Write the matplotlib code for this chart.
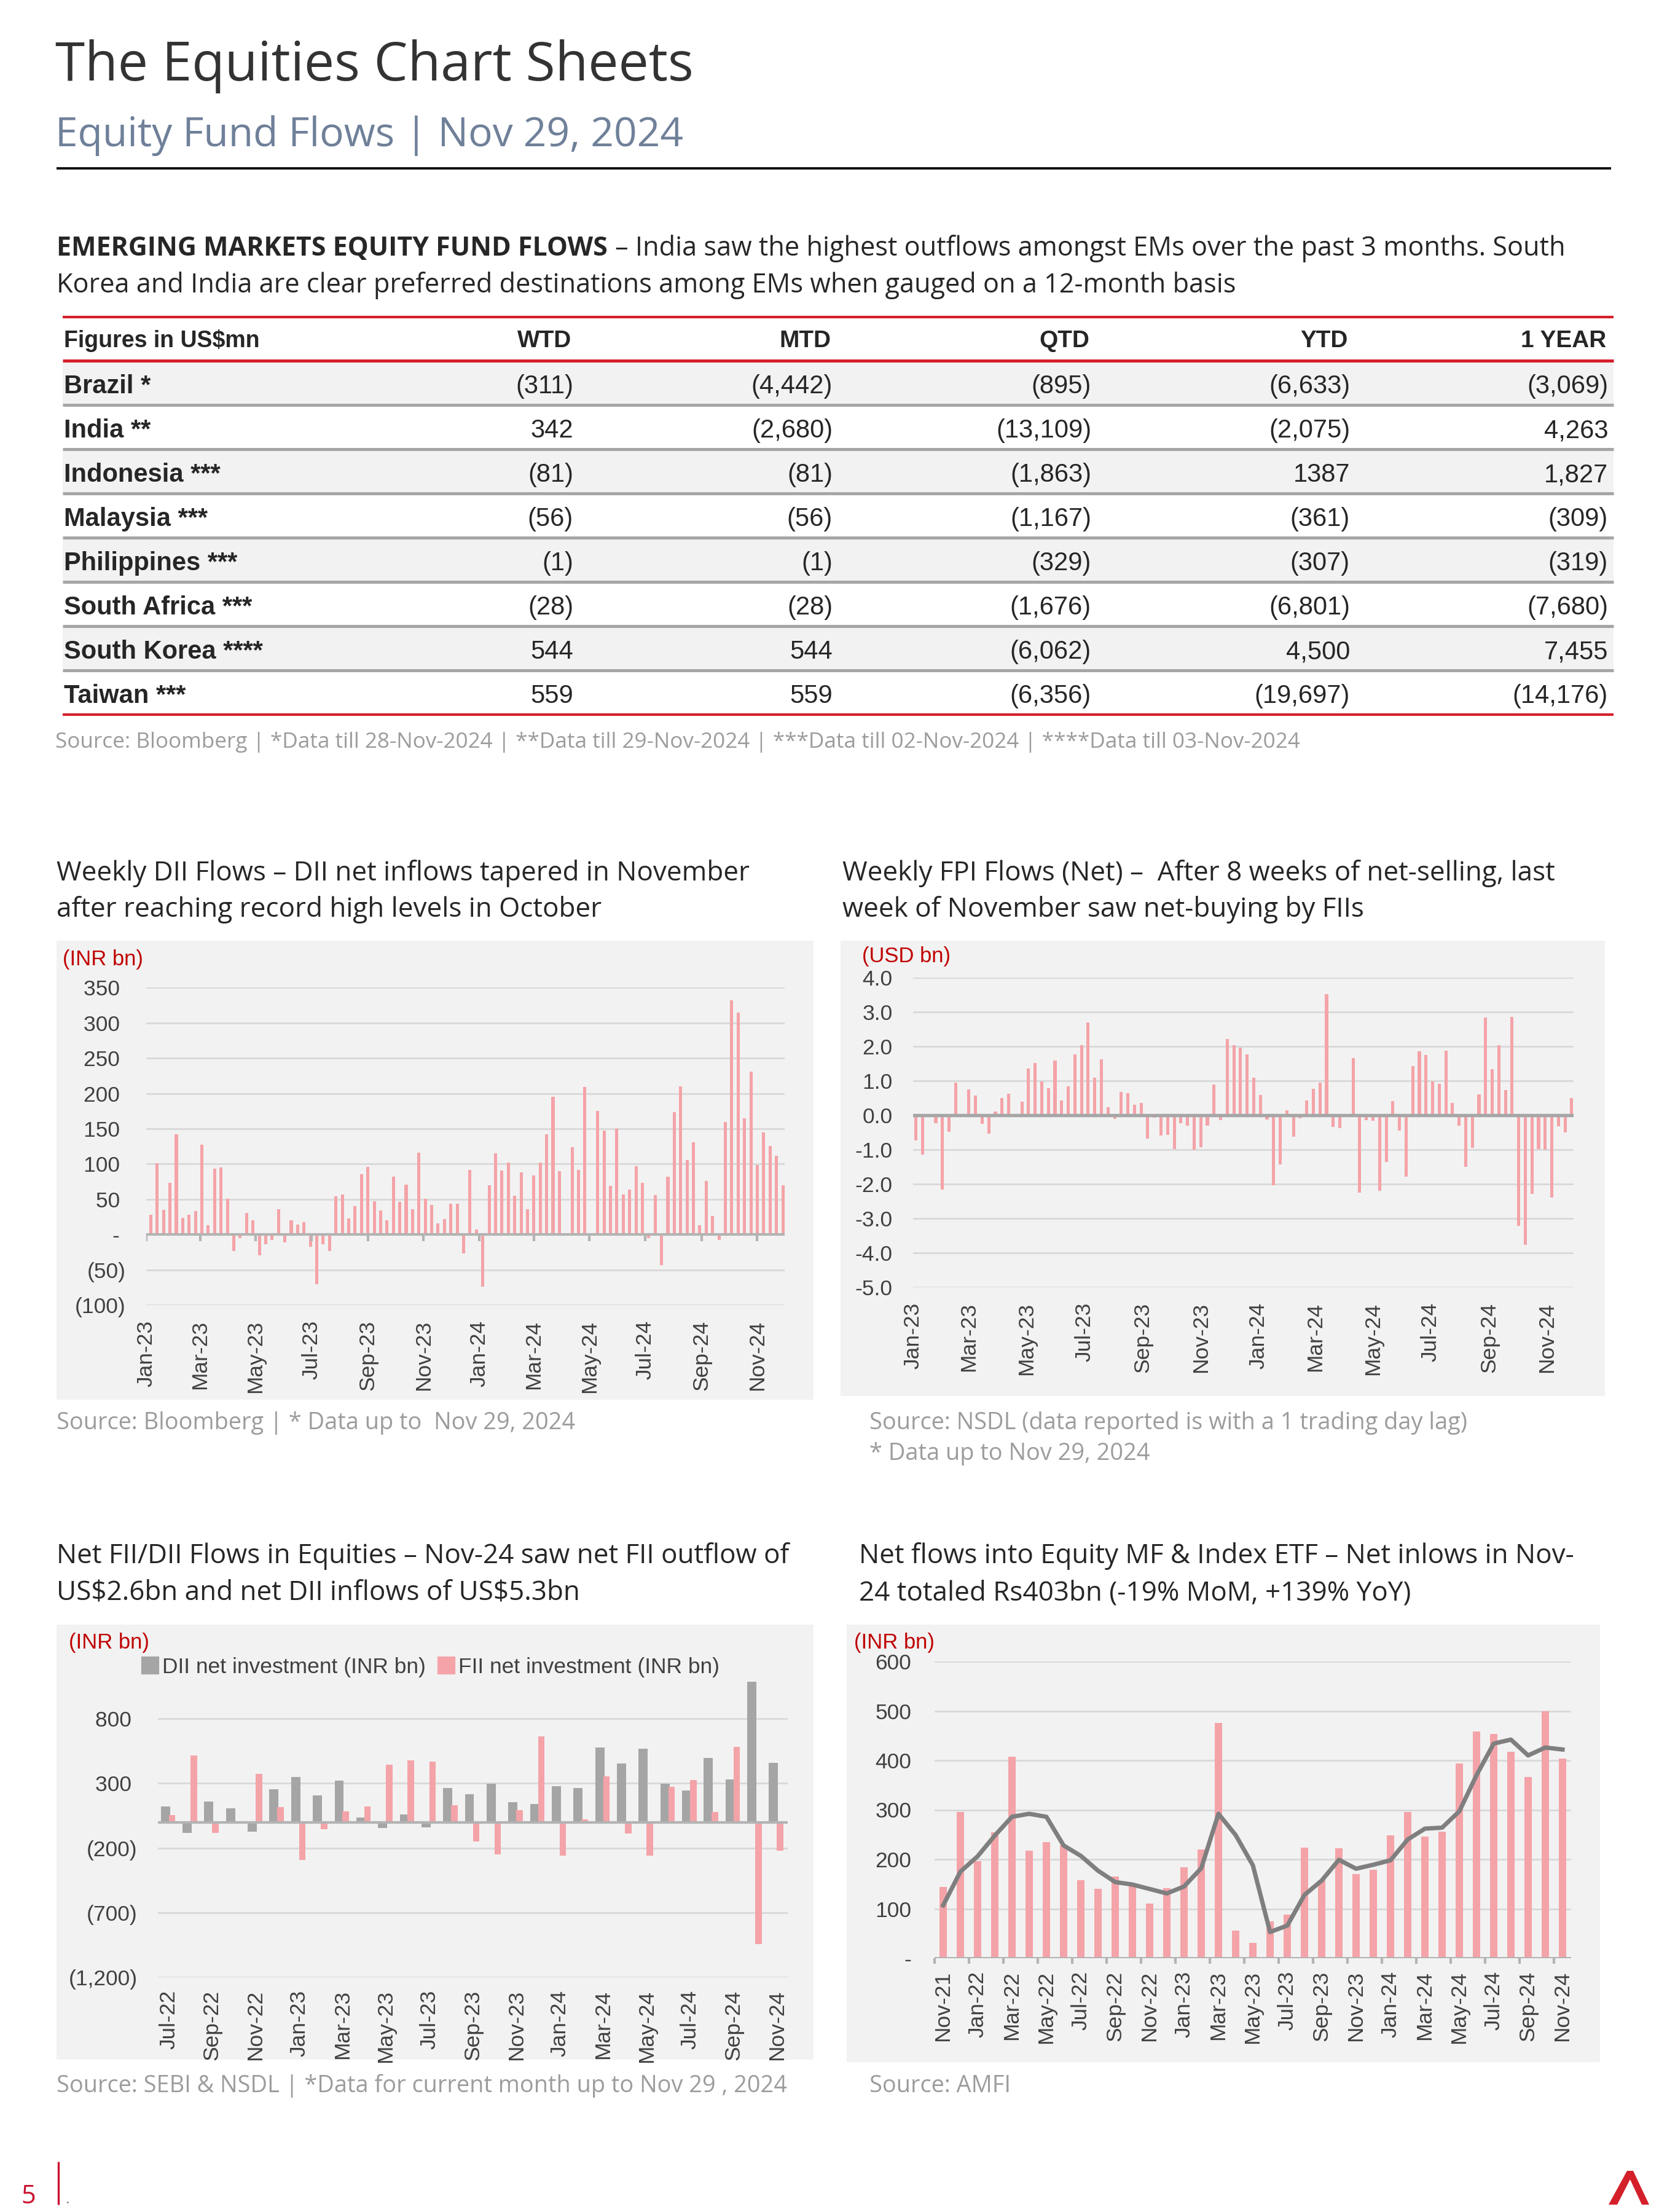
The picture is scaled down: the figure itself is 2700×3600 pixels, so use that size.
import numpy as np
import pandas as pd
import matplotlib
matplotlib.use("Agg")
import matplotlib.pyplot as plt
from matplotlib.patches import Rectangle, Polygon, Patch

W, H = 2700, 3600

# ---------------- data ----------------
countries = ["Brazil *", "India **", "Indonesia ***", "Malaysia ***", "Philippines ***",
             "South Africa ***", "South Korea ****", "Taiwan ***"]
table_cols = ["WTD", "MTD", "QTD", "YTD", "1 YEAR"]
wtd = ["(311)", "342", "(81)", "(56)", "(1)", "(28)", "544", "559"]
mtd = ["(4,442)", "(2,680)", "(81)", "(56)", "(1)", "(28)", "544", "559"]
qtd = ["(895)", "(13,109)", "(1,863)", "(1,167)", "(329)", "(1,676)", "(6,062)", "(6,356)"]
ytd = ["(6,633)", "(2,075)", "1387", "(361)", "(307)", "(6,801)", "4,500", "(19,697)"]
one_year = ["(3,069)", "4,263", "1,827", "(309)", "(319)", "(7,680)", "7,455", "(14,176)"]

# weekly DII flows, INR bn (weeks ending Fridays from 6-Jan-2023)
dii_weekly = [28, 101, 35, 73, 142, 24, 28, 33, 127, 13, 93, 95, 51, -23, -5, 31, 20, -29, -14, -8,
              36, -11, 20, 14, 18, -17, -70, -14, -23, 54, 57, 23, 40, 86, 96, 47, 34, 20, 82, 46,
              71, 36, 116, 51, 42, 16, 22, 44, 44, -27, 92, 7, -74, 70, 115, 91, 102, 55, 88, 36,
              84, 102, 142, 195, 90, 0, 124, 92, 209, 0, 175, 147, 69, 150, 57, 64, 97, 73, -5, 56,
              -43, 82, 174, 210, 106, 131, 13, 76, 26, -8, 160, 332, 315, 165, 231, 99, 145, 126, 112, 70]
dii_dates = pd.date_range("2023-01-06", periods=len(dii_weekly), freq="7D")

# weekly FPI net flows, USD bn
fpi_weekly = [-0.73, -1.14, 0.0, -0.23, -2.17, -0.49, 0.95, -0.06, 0.74, 0.57,
              -0.26, -0.54, 0.11, 0.49, 0.63, 0.0, 0.39, 1.35, 1.52, 0.98,
              0.79, 1.59, 0.42, 0.83, 1.76, 2.03, 2.69, 1.09, 1.63, 0.23,
              -0.12, 0.67, 0.64, 0.30, 0.36, -0.68, -0.08, -0.59, -0.58, -0.99,
              -0.23, -0.30, -1.00, -0.93, -0.31, 0.89, -0.15, 2.22, 2.03, 1.97,
              1.77, 1.08, 0.59, -0.13, -2.05, -1.43, 0.14, -0.63, -0.10, 0.42,
              0.76, 0.95, 3.51, -0.34, -0.38, -0.06, 1.66, -2.25, -0.14, -0.17,
              -2.21, -1.36, 0.41, -0.45, -1.79, 1.43, 1.85, 1.75, 0.98, 0.90,
              1.87, 0.36, -0.31, -1.51, -0.95, 0.60, 2.84, 1.33, 2.03, 0.72,
              2.85, -3.22, -3.77, -2.30, -0.99, -1.00, -2.40, -0.32, -0.51, 0.49]
fpi_dates = pd.date_range("2023-01-04", periods=len(fpi_weekly), freq="7D")

# monthly DII / FII net investment, INR bn (Jul-22 .. Nov-24)
flow_months = pd.date_range("2022-07-01", periods=29, freq="MS").strftime("%b-%y")
dii_monthly = [122, -85, 157, 109, -74, 255, 347, 207, 319, 35, -44, 59, -39, 264, 216,
               297, 155, 142, 279, 266, 576, 454, 570, 299, 247, 496, 332, 1087, 459]
fii_monthly = [57, 517, -81, -5, 371, 118, -293, -57, 85, 120, 443, 476, 469, 129, -151,
               -249, 94, 664, -258, 22, 356, -90, -258, 273, 325, 79, 583, -945, -223]

# net flows into equity MF & index ETF, INR bn (Nov-21 .. Nov-24)
mf_months = pd.date_range("2021-11-01", periods=37, freq="MS").strftime("%b-%y")
mf_flows = [144, 296, 196, 255, 407, 218, 235, 228, 158, 140, 165, 147, 110, 141, 184, 220,
            476, 56, 31, 74, 88, 223, 158, 222, 170, 179, 249, 296, 246, 256, 394, 458,
            453, 417, 366, 500, 404]
mf_3m_avg = [107, 175, 206, 248, 286, 292, 286, 228, 207, 177, 154, 149, 140, 131, 145, 182,
             292, 249, 188, 53, 66, 128, 157, 199, 181, 189, 198, 240, 262, 264, 297, 370,
             434, 442, 410, 426, 422]

# ---------------- style ----------------
PINK = "#f4a3a8"
GRAY_BAR = "#a5a5a5"
PANEL = "#f2f2f2"
GRID = "#d9d9d9"
AXIS = "#b3b3b3"
TICK = "#404040"
UNIT_RED = "#c00000"
TABLE_RED = "#d4202a"
SEP = "#a6a6a6"
SOURCE = "#9c9c9c"
LINE = "#7f7f7f"
TEXT_FONT = ["Open Sans", "DejaVu Sans"]
NUM_FONT = ["Liberation Sans", "DejaVu Sans"]

plt.rcParams["font.family"] = NUM_FONT

fig = plt.figure(figsize=(9, 12), dpi=300)
page = fig.add_axes([0, 0, 1, 1])
page.set_xlim(0, W)
page.set_ylim(H, 0)
page.axis("off")


def ptext(x, y, s, **kw):
    kw.setdefault("va", "baseline")
    kw.setdefault("family", TEXT_FONT)
    return page.text(x, y, s, **kw)


def paren(v, pad=""):
    if v == 0:
        return "-" + pad
    if v < 0:
        return "({:,})".format(abs(v))
    return "{:,}".format(v) + pad


def chart_axes(x0, y0, x1, y1):
    ax = fig.add_axes([x0 / W, 1 - y1 / H, (x1 - x0) / W, (y1 - y0) / H])
    ax.set_facecolor("none")
    for s in ax.spines.values():
        s.set_visible(False)
    ax.grid(axis="y", color=GRID, lw=0.7)
    ax.set_axisbelow(True)
    ax.tick_params(axis="both", length=0, labelsize=8.5, labelcolor=TICK)
    return ax


# ---------------- header ----------------
ptext(90, 131, "The Equities Chart Sheets", fontsize=21, color="#333333")
ptext(90, 238, "Equity Fund Flows | Nov 29, 2024", fontsize=15.8, color="#6f8099")
page.hlines(274, 92, 2622, color="black", lw=0.9)

bold_head = ptext(92, 416, "EMERGING MARKETS EQUITY FUND FLOWS", fontsize=10.3, weight="bold",
                  color="#262626")
# put the regular part right after the bold lead-in
fig.canvas.draw()
bb = bold_head.get_window_extent().transformed(page.transData.inverted())
ptext(max(bb.x1, bb.x0) + 12, 416,
      "\u2013 India saw the highest outflows amongst EMs over the past 3 months. South",
      fontsize=10.4, color="#262626")
ptext(92, 476, "Korea and India are clear preferred destinations among EMs when gauged on a 12-month basis",
      fontsize=10.4, color="#262626")

# ---------------- table ----------------
row_top = 589
row_h = 72
for i in range(len(countries)):
    if i % 2 == 0:
        page.add_patch(Rectangle((102, row_top + i * row_h), 2524, row_h - 3, color=PANEL, lw=0))
page.hlines([516, 1163], 102, 2626, color=TABLE_RED, lw=1.0)
page.hlines(587, 102, 2626, color=TABLE_RED, lw=1.2)
page.hlines([row_top + row_h * (i + 1) - 2 for i in range(len(countries) - 1)], 102, 2626,
            color=SEP, lw=1.2)

num_right = [933, 1355, 1776, 2197, 2617]
ptext(104, 565, "Figures in US\\$mn", family=NUM_FONT, fontsize=9, weight="bold", color="#262626")
for xr, col in zip(num_right, table_cols):
    ptext(xr - 3, 565, col, family=NUM_FONT, fontsize=9.3, weight="bold", color="#262626", ha="right")
for i, name in enumerate(countries):
    yb = 640 + i * row_h
    ptext(104, yb, name, family=NUM_FONT, fontsize=10, weight="bold", color="#262626")
    for xr, col in zip(num_right, [wtd, mtd, qtd, ytd, one_year]):
        ptext(xr, yb, col[i], family=NUM_FONT, fontsize=10, color="#262626", ha="right")

ptext(90, 1217, "Source: Bloomberg | *Data till 28-Nov-2024 | **Data till 29-Nov-2024 | "
      "***Data till 02-Nov-2024 | ****Data till 03-Nov-2024", fontsize=8.45, color=SOURCE)

# ---------------- chart titles, panels, sources ----------------
TS = 10.55
ptext(92, 1433, "Weekly DII Flows \u2013 DII net inflows tapered in November", fontsize=TS, color="#262626")
ptext(92, 1492, "after reaching record high levels in October", fontsize=TS, color="#262626")
ptext(1371, 1433, "Weekly FPI Flows (Net) \u2013  After 8 weeks of net-selling, last", fontsize=TS, color="#262626")
ptext(1371, 1492, "week of November saw net-buying by FIIs", fontsize=TS, color="#262626")
ptext(92, 2544, "Net FII/DII Flows in Equities \u2013 Nov-24 saw net FII outflow of", fontsize=TS, color="#262626")
ptext(92, 2604, "US\\$2.6bn and net DII inflows of US\\$5.3bn", fontsize=TS, color="#262626")
ptext(1398, 2544, "Net flows into Equity MF & Index ETF \u2013 Net inlows in Nov-", fontsize=TS, color="#262626")
ptext(1398, 2604, "24 totaled Rs403bn (-19% MoM, +139% YoY)", fontsize=TS, color="#262626")

for (x0, y0, x1, y1) in [(92, 1531, 1324, 2278), (1368, 1531, 2612, 2272),
                         (92, 2644, 1324, 3352), (1378, 2644, 2604, 3356)]:
    page.add_patch(Rectangle((x0, y0), x1 - x0, y1 - y0, color=PANEL, lw=0))

ptext(102, 1571, "(INR bn)", family=NUM_FONT, fontsize=8.3, color=UNIT_RED)
ptext(1403, 1566, "(USD bn)", family=NUM_FONT, fontsize=8.3, color=UNIT_RED)
ptext(112, 2683, "(INR bn)", family=NUM_FONT, fontsize=8.3, color=UNIT_RED)
ptext(1390, 2683, "(INR bn)", family=NUM_FONT, fontsize=8.3, color=UNIT_RED)

SS = 9.1
ptext(92, 2326, "Source: Bloomberg | * Data up to  Nov 29, 2024", fontsize=SS, color=SOURCE)
ptext(1415, 2326, "Source: NSDL (data reported is with a 1 trading day lag)", fontsize=SS, color=SOURCE)
ptext(1415, 2376, "* Data up to Nov 29, 2024", fontsize=SS, color=SOURCE)
ptext(92, 3405, "Source: SEBI & NSDL | *Data for current month up to Nov 29 , 2024", fontsize=SS, color=SOURCE)
ptext(1415, 3405, "Source: AMFI", fontsize=SS, color=SOURCE)

# ---------------- chart 1: weekly DII ----------------
ax1 = chart_axes(238, 1607.5, 1277, 2124)
ax1.bar(dii_dates, dii_weekly, width=3.4, color=PINK, zorder=2)
ax1.set_xlim(pd.Timestamp("2023-01-01"), pd.Timestamp("2024-12-01"))
ax1.set_ylim(-100, 350)
yt = list(range(-100, 351, 50))
ax1.set_yticks(yt)
ax1.set_yticklabels([paren(v, " ") for v in yt])
ticks1 = pd.date_range("2023-01-01", "2024-11-01", freq="2MS")
ax1.set_xticks(ticks1)
ax1.set_xticklabels(ticks1.strftime("%b-%y"), rotation=90)
ax1.tick_params(axis="y", pad=8)
ax1.tick_params(axis="x", pad=6)
ax1.axhline(0, color=AXIS, lw=1.0, zorder=3)
ax1.vlines(ticks1, -9, 0, color=AXIS, lw=1.0, zorder=3)

# ---------------- chart 2: weekly FPI ----------------
ax2 = chart_axes(1486, 1591, 2561, 2094.5)
ax2.bar(fpi_dates, fpi_weekly, width=3.3, color=PINK, zorder=2)
ax2.set_xlim(pd.Timestamp("2023-01-01"), pd.Timestamp("2024-11-29"))
ax2.set_ylim(-5, 4)
yt2 = np.arange(-5, 5)
ax2.set_yticks(yt2)
ax2.set_yticklabels(["{:.1f}".format(v) for v in yt2])
ticks2 = pd.date_range("2023-01-01", "2024-11-01", freq="2MS")
ax2.set_xticks(ticks2)
ax2.set_xticklabels(ticks2.strftime("%b-%y"), rotation=90)
ax2.tick_params(axis="y", pad=8)
ax2.tick_params(axis="x", pad=6)
ax2.axhline(0, color="#a6a6a6", lw=1.3, zorder=3)

# ---------------- chart 3: monthly FII / DII ----------------
ax3 = chart_axes(257, 2713, 1282, 3218)
x3 = np.arange(len(flow_months))
ax3.bar(x3 - 0.155, dii_monthly, width=0.42, color=GRAY_BAR, zorder=2)
ax3.bar(x3 + 0.15, fii_monthly, width=0.30, color=PINK, zorder=3)
ax3.set_xlim(-0.5, len(flow_months) - 0.5)
ax3.set_ylim(-1200, 1200)
yt3 = [-1200, -700, -200, 300, 800]
ax3.set_yticks(yt3)
ax3.set_yticklabels([paren(v, " ") for v in yt3])
ax3.set_xticks(x3[::2])
ax3.set_xticklabels(flow_months[::2], rotation=90)
ax3.tick_params(axis="y", pad=8)
ax3.tick_params(axis="x", pad=5)
ax3.axhline(0, color=AXIS, lw=1.0, zorder=4)
ax3.legend([Patch(color=GRAY_BAR), Patch(color=PINK)],
           ["DII net investment (INR bn)", "FII net investment (INR bn)"],
           loc="center left", bbox_to_anchor=(232 / W, 1 - 2713 / H), bbox_transform=fig.transFigure,
           ncol=2, frameon=False, fontsize=8.5, handlelength=0.7, handleheight=0.7,
           handletextpad=0.2, columnspacing=0.6, borderaxespad=0, borderpad=0, labelcolor=TICK)

# ---------------- chart 4: MF & ETF flows ----------------
ax4 = chart_axes(1521, 2704, 2557, 3187)
x4 = np.arange(len(mf_months))
ax4.bar(x4, mf_flows, width=0.41, color=PINK, zorder=2)
ax4.plot(x4, mf_3m_avg, color=LINE, lw=1.7, zorder=4)
ax4.set_xlim(-0.5, len(mf_months) - 0.5)
ax4.set_ylim(0, 600)
yt4 = list(range(0, 601, 100))
ax4.set_yticks(yt4)
ax4.set_yticklabels([paren(v) for v in yt4])
ax4.set_xticks(x4[::2])
ax4.set_xticklabels(mf_months[::2], rotation=90)
ax4.tick_params(axis="y", pad=9)
ax4.tick_params(axis="x", pad=5)
ax4.axhline(0, color=AXIS, lw=1.2, zorder=3)
ax4.vlines(np.arange(-0.5, len(mf_months) - 1, 2), -11, 0, color=AXIS, lw=1.0, clip_on=False)

# ---------------- footer ----------------
ptext(34, 3586, "5", fontsize=10, color="#c8102e")
page.vlines(95, 3518, 3588, color="#c8102e", lw=0.8)
ptext(106, 3586, ".", fontsize=6, color="#888888")
page.add_patch(Polygon([(2618, 3588), (2648, 3533), (2658, 3533), (2684, 3588), (2672, 3588),
                        (2653, 3547), (2632, 3588)], closed=True, color="#d4202a", lw=0))

fig.savefig("out.png", dpi=300)
